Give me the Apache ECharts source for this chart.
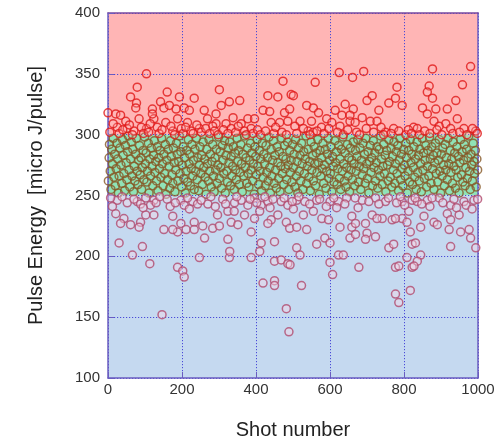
<!DOCTYPE html>
<html><head><meta charset="utf-8">
<script src="https://cdn.jsdelivr.net/npm/echarts@6/dist/echarts.min.js"></script>
<style>html,body{margin:0;padding:0;background:#fff}#c{width:501px;height:445px}</style>
</head><body><div id="c"></div>
<script>
// Axis ticks
const xTicks = [0, 200, 400, 600, 800, 1000];
const yTicks = [100, 150, 200, 250, 300, 350, 400];
// Target bands [from, to]
const bandHigh = [300, 400];
const bandMid = [250, 300];
const bandLow = [100, 250];

// Shots above the 300 line: [shot, energy]
const highPoints = [
[104,350],[79,339],[61,331],[77,326],[160,335],[142,327],[151,322],[0,318],[21,317],[34,316],[75,322],[120,321],[84,313],[48,311],[25,306],[124,313],[156,310],[52,305],[104,305],[70,303],[133,306],[120,317],
[301,337],[328,327],[233,330],[193,331],[166,324],[184,321],[206,322],[220,320],[260,320],[292,317],[269,313],[215,310],[292,309],[319,309],[247,305],[224,303],[188,313],[175,303],[283,307],[306,324],
[473,344],[432,332],[459,331],[356,328],[419,320],[437,319],[477,318],[495,333],[338,314],[378,313],[396,313],[441,310],[464,310],[486,311],[360,309],[333,305],[369,303],[387,305],[491,321],
[625,351],[560,343],[661,347],[501,332],[537,324],[555,322],[569,318],[614,320],[641,325],[663,321],[519,311],[550,311],[591,313],[632,316],[654,311],[505,307],[541,303],[577,306],[605,310],[627,307],[654,316],[555,302],
[691,352],[781,339],[777,330],[759,326],[795,324],[714,332],[700,328],[732,320],[687,314],[709,311],[727,311],[772,305],[750,302],[826,306],[668,310],
[980,356],[877,354],[958,341],[868,340],[863,335],[877,330],[940,328],[850,322],[886,321],[917,321],[863,317],[881,311],[944,313],[836,305],[913,309],[926,305],[962,305],[994,303],[895,307],
[5,302],[14,309],[30,301],[40,304],[58,308],[66,300],[90,306],[96,301],[110,302],[114,309],[138,301],[146,304],[170,307],[180,300],[198,305],[203,301],[210,306],[230,301],[240,308],[252,302],[264,305],[275,301],[288,303],[298,300],[312,304],[324,301],[345,302],[352,307],[374,300],[392,301],[404,304],[412,300],[426,303],[448,301],[453,306],[470,302],[482,300],[510,301],[528,305],[546,300],[565,303],[584,301],[597,305],[620,302],[636,300],[648,304],[672,302],[680,300],[698,305],[718,302],[738,306],[745,300],[765,301],[786,303],[805,300],[812,304],[820,301],[842,300],[856,303],[870,301],[889,304],[902,300],[932,301],[950,302],[970,300],[985,305],[998,301]
];

// Shots inside the 250-300 band: [shot, energy]
const midPoints = [
[1,262],[3,281],[4,292],[6,270],[8,255],[10,288],[12,276],[14,297],[16,265],[18,284],
[20,258],[22,272],[24,293],[26,280],[28,252],[30,266],[32,289],[35,275],[37,260],[39,296],
[41,283],[43,268],[45,254],[47,291],[49,277],[51,263],[53,286],[55,299],[57,271],[59,257],
[61,280],[63,294],[65,266],[67,288],[69,253],[71,274],[73,262],[75,284],[77,297],[79,270],
[81,259],[83,279],[85,291],[87,267],[89,281],[91,255],[93,273],[95,287],[97,263],[99,298],
[101,276],[103,285],[105,261],[107,270],[109,293],[111,252],[113,280],[115,266],[117,289],[119,274],
[121,258],[123,283],[125,295],[127,269],[129,278],[131,262],[133,290],[135,254],[137,281],[139,272],
[141,287],[143,265],[145,297],[147,276],[149,258],[151,284],[153,268],[155,292],[157,251],[159,279],
[161,263],[163,288],[165,274],[167,256],[169,295],[171,282],[173,267],[175,260],[177,289],[179,277],
[181,253],[183,271],[185,293],[187,284],[189,262],[191,278],[193,299],[195,268],[197,286],[199,257],
[201,275],[203,290],[205,264],[207,281],[209,252],[211,270],[213,287],[215,261],[217,296],[219,276],
[221,284],[223,258],[225,272],[227,292],[229,266],[231,279],[233,255],[235,288],[237,270],[239,297],
[241,263],[243,281],[245,254],[247,275],[249,290],[251,268],[253,283],[255,259],[257,294],[259,273],
[261,280],[263,265],[265,251],[267,288],[269,276],[271,262],[273,296],[275,270],[277,284],[279,257],
[281,278],[283,292],[285,266],[287,253],[289,281],[291,271],[293,288],[295,260],[297,275],[299,298],
[301,264],[303,286],[305,273],[307,256],[309,291],[311,279],[313,268],[315,295],[317,252],[319,283],
[321,270],[323,261],[325,289],[327,277],[329,294],[331,258],[333,282],[335,266],[337,274],[339,290],
[341,255],[343,285],[345,271],[347,263],[349,297],[351,278],[353,287],[355,259],[357,269],[359,292],
[361,276],[363,253],[365,284],[367,266],[369,299],[371,273],[373,281],[375,260],[377,289],[379,268],
[381,257],[383,279],[385,293],[387,271],[389,285],[391,262],[393,276],[395,251],[397,290],[399,282],
[401,267],[403,296],[405,274],[407,259],[409,287],[411,270],[413,280],[415,254],[417,293],[419,265],
[421,284],[423,276],[425,258],[427,291],[429,269],[431,281],[433,262],[435,298],[437,273],[439,252],
[441,288],[443,266],[445,279],[447,295],[449,260],[451,283],[453,271],[455,256],[457,290],[459,277],
[461,264],[463,286],[465,253],[467,274],[469,297],[471,268],[473,282],[475,259],[477,291],[479,272],
[481,280],[483,263],[485,294],[487,275],[489,255],[491,287],[493,269],[495,279],[497,261],[499,292],
[501,273],[503,284],[505,257],[507,296],[509,266],[511,278],[513,252],[515,289],[517,270],[519,283],
[521,262],[523,293],[525,276],[527,255],[529,286],[531,268],[533,280],[535,299],[537,260],[539,274],
[541,288],[543,265],[545,278],[547,254],[549,294],[551,271],[553,283],[555,262],[557,290],[559,276],
[561,258],[563,285],[565,269],[567,296],[569,277],[571,251],[573,287],[575,266],[577,281],[579,272],
[581,293],[583,260],[585,275],[587,288],[589,256],[591,270],[593,284],[595,297],[597,264],[599,279],
[601,268],[603,290],[605,253],[607,282],[609,274],[611,261],[613,295],[615,277],[617,286],[619,259],
[621,272],[623,291],[625,264],[627,280],[629,255],[631,288],[633,270],[635,298],[637,276],[639,262],
[641,285],[643,257],[645,273],[647,292],[649,266],[651,281],[653,253],[655,289],[657,271],[659,279],
[661,263],[663,294],[665,276],[667,258],[669,287],[671,270],[673,282],[675,296],[677,261],[679,274],
[681,289],[683,255],[685,279],[687,267],[689,293],[691,272],[693,284],[695,260],[697,297],[699,276],
[701,264],[703,286],[705,252],[707,278],[709,291],[711,269],[713,281],[715,258],[717,295],[719,273],
[721,285],[723,262],[725,277],[727,290],[729,256],[731,271],[733,288],[735,266],[737,299],[739,280],
[741,259],[743,274],[745,292],[747,268],[749,283],[751,253],[753,287],[755,275],[757,262],[759,296],
[761,278],[763,265],[765,289],[767,257],[769,282],[771,271],[773,294],[775,260],[777,276],[779,286],
[781,268],[783,291],[785,254],[787,279],[789,297],[791,263],[793,284],[795,272],[797,258],[799,288],
[801,275],[803,266],[805,293],[807,281],[809,252],[811,270],[813,287],[815,261],[817,296],[819,277],
[821,284],[823,259],[825,273],[827,290],[829,265],[831,280],[833,255],[835,294],[837,269],[839,283],
[841,262],[843,288],[845,276],[847,253],[849,297],[851,271],[853,285],[855,264],[857,279],[859,291],
[861,257],[863,274],[865,287],[867,266],[869,298],[871,280],[873,260],[875,290],[877,272],[879,283],
[881,255],[883,277],[885,293],[887,268],[889,285],[891,261],[893,279],[895,296],[897,270],[899,252],
[901,284],[903,266],[905,289],[907,275],[909,258],[911,292],[913,271],[915,281],[917,263],[919,297],
[921,276],[923,254],[925,287],[927,269],[929,280],[931,260],[933,294],[935,274],[937,285],[939,256],
[941,271],[943,290],[945,265],[947,282],[949,252],[951,277],[953,296],[955,267],[957,286],[959,261],
[961,279],[963,292],[965,258],[967,273],[969,288],[971,264],[973,281],[975,299],[977,270],[979,255],
[981,284],[983,275],[985,262],[987,293],[989,278],[991,268],[993,287],[995,257],[997,280],[999,271]
];

// Shots below the 250 line: [shot, energy]
const lowPoints = [
[25,246],[7,248],[52,244],[79,245],[102,248],[124,246],[88,243],[115,242],[21,235],[43,231],[34,227],[61,226],[88,228],[102,234],[124,234],[84,224],[151,222],[30,211],[66,201],[93,208],[113,194],[146,152],
[197,246],[206,242],[229,245],[242,243],[175,233],[197,227],[188,220],[211,222],[233,228],[256,225],[261,215],[296,234],[283,223],[301,225],[324,237],[333,228],[324,214],[247,199],[328,199],[188,191],[202,188],[206,183],[175,222],[233,222],
[360,246],[396,248],[414,242],[432,245],[468,245],[486,242],[341,237],[369,234],[410,237],[396,231],[441,230],[482,228],[459,234],[351,226],[387,220],[432,227],[491,223],[414,211],[450,212],[410,204],[387,199],[450,196],[468,197],[486,194],[419,178],[450,180],[450,176],[482,157],[329,204],[489,138],
[510,246],[532,245],[564,246],[600,245],[623,245],[645,248],[501,239],[528,234],[555,237],[578,231],[596,230],[659,233],[510,224],[537,222],[627,224],[659,224],[654,215],[586,215],[600,211],[564,210],[510,207],[519,201],[623,201],[636,201],[600,195],[607,185],[523,176],[492,193],
[687,246],[723,248],[750,245],[795,245],[822,246],[714,234],[741,231],[768,230],[795,231],[813,237],[669,227],[696,227],[727,231],[777,231],[808,228],[669,218],[700,219],[723,216],[696,214],[817,220],[822,210],[759,207],[772,210],[678,191],[777,191],[786,192],[822,191],[808,199],[817,172],[777,169],[786,162],
[836,245],[863,246],[895,248],[926,242],[962,245],[989,246],[854,233],[881,228],[917,235],[949,234],[845,224],[890,226],[926,230],[922,222],[953,220],[976,222],[980,215],[831,211],[926,208],[994,207],[845,201],[836,196],[827,192],
[12,241],[38,249],[70,247],[95,240],[130,244],[140,249],[160,247],[168,241],[182,244],[215,248],[220,239],[252,246],[270,243],[278,249],[290,241],[310,247],[318,243],[342,244],[348,249],[378,242],[384,247],[402,244],[424,249],[438,240],[446,247],[476,248],[498,245],[516,249],[545,243],[572,247],[590,241],[610,248],[618,240],[640,243],[668,248],[676,240],[705,245],[732,243],[758,248],[780,244],[790,249],[802,242],[830,248],[848,243],[870,241],[876,248],[905,244],[935,247],[942,240],[968,242],[984,239],[999,247]
];

const chart = echarts.init(document.getElementById('c'), null, {renderer: 'canvas'});
const font = '"Liberation Sans", Arial, sans-serif';
const gridLine = {show: true, lineStyle: {color: '#4a4ad8', type: [1.2, 1.8], width: 1}};
const axisCol = '#6a5cc0';

function pointSeries(data, stroke, fill) {
  return {
    type: 'scatter', data: data, symbol: 'circle', symbolSize: 8, z: 5,
    silent: true,
    itemStyle: {color: fill, borderColor: stroke, borderWidth: 1.5}
  };
}

chart.setOption({
  animation: false,
  backgroundColor: '#ffffff',
  grid: {left: 108, right: 23, top: 13, bottom: 64},
  xAxis: [{
    type: 'value', min: xTicks[0], max: xTicks[xTicks.length - 1], interval: 200, z: 3,
    name: 'Shot number', nameLocation: 'middle', nameGap: 42,
    nameTextStyle: {fontFamily: font, fontSize: 20, color: '#222'},
    axisLine: {show: true, onZero: false, lineStyle: {color: axisCol, width: 1.5}},
    axisTick: {show: true, inside: true, length: 6, lineStyle: {color: axisCol}},
    axisLabel: {fontFamily: font, fontSize: 15, color: '#333', margin: 4, formatter: v => String(v)},
    splitLine: gridLine
  }, {
    type: 'value', position: 'top', min: xTicks[0], max: xTicks[xTicks.length - 1], interval: 200, z: 3,
    axisLine: {show: true, onZero: false, lineStyle: {color: '#7a4a9e', width: 1.5}},
    axisTick: {show: false}, axisLabel: {show: false}, splitLine: {show: false}
  }],
  yAxis: [{
    type: 'value', min: yTicks[0], max: yTicks[yTicks.length - 1], interval: 50, z: 3,
    name: 'Pulse Energy  [micro J/pulse]', nameLocation: 'middle', nameGap: 62,
    nameTextStyle: {fontFamily: font, fontSize: 20, color: '#222'},
    axisLine: {show: true, onZero: false, lineStyle: {color: axisCol, width: 1.5}},
    axisTick: {show: true, inside: true, length: 6, lineStyle: {color: axisCol}},
    axisLabel: {fontFamily: font, fontSize: 15, color: '#333', margin: 8},
    splitLine: gridLine
  }, {
    type: 'value', position: 'right', min: yTicks[0], max: yTicks[yTicks.length - 1], interval: 50, z: 3,
    axisLine: {show: true, onZero: false, lineStyle: {color: '#6a5cc0', width: 1.5}},
    axisTick: {show: false}, axisLabel: {show: false}, splitLine: {show: false}
  }],
  series: [
    {
      type: 'scatter', data: [], z: 1, silent: true,
      markArea: {
        silent: true,
        data: [
          [{yAxis: bandHigh[0], itemStyle: {color: '#ffb5b5'}}, {yAxis: bandHigh[1]}],
          [{yAxis: bandMid[0], itemStyle: {color: '#90e3b7'}}, {yAxis: bandMid[1]}],
          [{yAxis: bandLow[0], itemStyle: {color: '#c5d9f0'}}, {yAxis: bandLow[1]}]
        ]
      }
    },
    pointSeries(midPoints, '#865826', 'rgba(0,0,0,0)'),
    pointSeries(lowPoints, '#b04a6e', 'rgba(245,215,230,0.55)'),
    pointSeries(highPoints, '#e01818', 'rgba(255,190,190,0.3)')
  ]
});
</script>
</body></html>
